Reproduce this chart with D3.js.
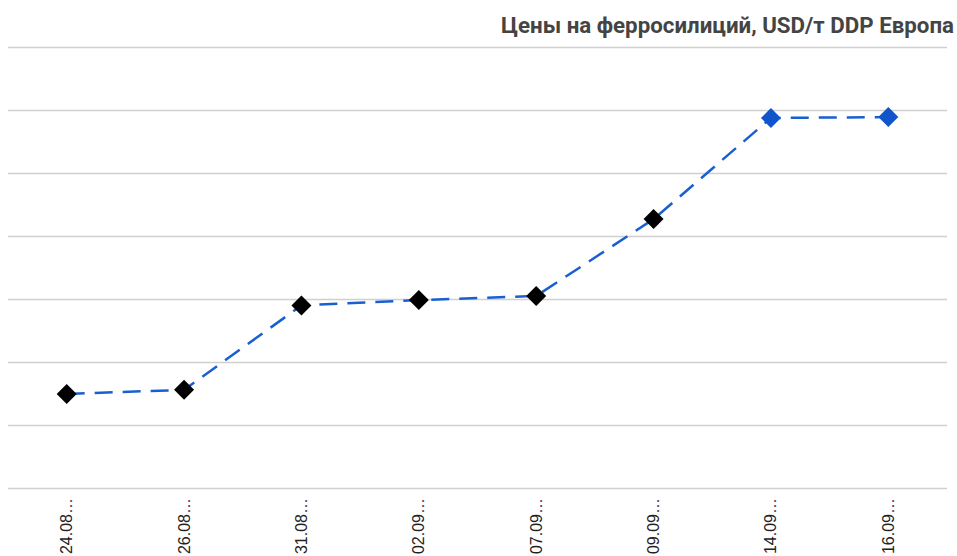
<!DOCTYPE html>
<html>
<head>
<meta charset="utf-8">
<script src="https://cdn.jsdelivr.net/npm/d3@7"></script>
<style>
  body { margin: 0; background: #fff; }
  svg { display: block; }
</style>
</head>
<body>
<svg id="chart" width="957" height="556"></svg>
<script>
// Chart data
const dates = ["24.08…", "26.08…", "31.08…", "02.09…", "07.09…", "09.09…", "14.09…", "16.09…"];
const prices = [2297, 2310, 2578, 2595, 2608, 2852, 3173, 3176];
// last two points are highlighted in blue
const highlighted = [false, false, false, false, false, false, true, true];
const gridTicks = [2000, 2200, 2400, 2600, 2800, 3000, 3200, 3400];
const title = "Цены на ферросилиций, USD/т DDP Европа";

const conf = {
  width: 957,
  height: 556,
  left: 8,
  right: 947,
  top: 46.5,
  bottom: 487.5,
};

const svg = d3.select('#chart');

const x = d3.scalePoint()
  .domain(dates)
  .range([conf.left, conf.right])
  .padding(0.5);

const y = d3.scaleLinear()
  .domain([2000, 3400])
  .range([conf.bottom, conf.top]);

// Horizontal grid lines
svg.append('g')
  .selectAll('line')
  .data(gridTicks)
  .enter().append('line')
  .attr('x1', conf.left)
  .attr('x2', conf.right)
  .attr('y1', d => Math.round(y(d)) + 0.5)
  .attr('y2', d => Math.round(y(d)) + 0.5)
  .attr('stroke', '#d0d0d0')
  .attr('stroke-width', 1.5);

// X labels, rotated
svg.append('g')
  .selectAll('text')
  .data(dates)
  .enter().append('text')
  .attr('transform', d => `translate(${x(d) + 5.5},498) rotate(-90)`)
  .attr('text-anchor', 'end')
  .attr('font-family', 'Arial, "Liberation Sans", sans-serif')
  .attr('font-size', 16)
  .attr('fill', '#222')
  .text(d => d);

// Dashed line
const line = d3.line()
  .x((d, i) => x(dates[i]))
  .y(d => y(d));

svg.append('path')
  .datum(prices)
  .attr('d', line)
  .attr('fill', 'none')
  .attr('stroke', '#1a5fd1')
  .attr('stroke-width', 2.5)
  .attr('stroke-dasharray', '18,10');

// Diamond markers
svg.append('g')
  .selectAll('path')
  .data(prices)
  .enter().append('path')
  .attr('transform', (d, i) => `translate(${x(dates[i])},${y(d)})`)
  .attr('d', 'M0,-10L10,0L0,10L-10,0Z')
  .attr('fill', (d, i) => highlighted[i] ? '#1155cc' : '#000');

// Title, right aligned
svg.append('text')
  .attr('x', 954)
  .attr('y', 33)
  .attr('text-anchor', 'end')
  .attr('font-family', 'Roboto, sans-serif')
  .attr('font-weight', 'bold')
  .attr('font-size', 22.3)
  .attr('fill', '#444')
  .text(title);
</script>
</body>
</html>
